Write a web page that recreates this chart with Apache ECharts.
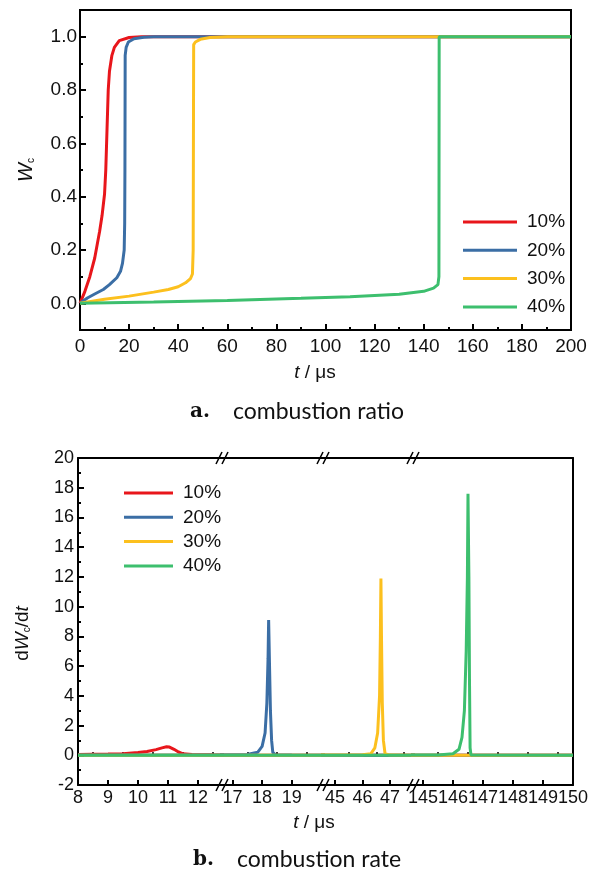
<!DOCTYPE html>
<html lang="en">
<head>
<meta charset="UTF-8">
<title>combustion ratio / rate</title>
<style>html,body{margin:0;padding:0;background:#fff}#main{width:598px;height:871px}</style>
</head>
<body>
<div id="main"></div>
<script src="https://cdn.jsdelivr.net/npm/echarts@6/dist/echarts.min.js"></script>
<script>
    // series labels and colours
    const names = ['10%', '20%', '30%', '40%'];
    const colors = ['#e8161b', '#3b6ea5', '#fcc01e', '#3dbf6e'];

    // a. combustion ratio W_c vs t (us)
    const ratio10 = [[0, 0], [2, 0.045], [4, 0.1], [6, 0.17], [8, 0.27], [9, 0.33], [10, 0.41], [10.5, 0.5], [11, 0.65], [11.5, 0.8], [12, 0.87], [13, 0.93], [14, 0.96], [16, 0.985], [20, 0.997], [25, 1], [200, 1]];
    const ratio20 = [[0, 0], [3, 0.02], [6, 0.035], [9.5, 0.052], [12, 0.07], [15, 0.096], [16.5, 0.12], [17.3, 0.15], [18, 0.2], [18.2, 0.3], [18.3, 0.5], [18.4, 0.93], [18.8, 0.96], [19.7, 0.98], [22, 0.992], [26, 0.998], [30, 1], [200, 1]];
    const ratio30 = [[0, 0], [10, 0.015], [20, 0.027], [30, 0.042], [36, 0.052], [40, 0.062], [43, 0.077], [45, 0.093], [45.8, 0.11], [46.1, 0.2], [46.2, 0.6], [46.3, 0.97], [47, 0.98], [49, 0.99], [53, 0.997], [60, 1], [200, 1]];
    const ratio40 = [[0, 0], [30, 0.005], [60, 0.011], [90, 0.019], [110, 0.025], [130, 0.034], [140, 0.045], [144, 0.057], [145.8, 0.07], [146.2, 0.1], [146.3, 1], [200, 1]];

    // b. combustion rate dW_c/dt vs t (us)
    const rate10 = [[8, 0.06], [9, 0.08], [9.5, 0.11], [10, 0.18], [10.3, 0.26], [10.6, 0.38], [10.8, 0.5], [10.95, 0.57], [11.05, 0.55], [11.2, 0.4], [11.35, 0.22], [11.5, 0.1], [11.8, 0.05], [12.5, 0.03], [13, 0.02], [17, 0.005], [150, 0]];
    const rate20 = [[8, 0.01], [12, 0.02], [16.8, 0.03], [17.5, 0.05], [17.85, 0.2], [18.0, 0.6], [18.1, 1.5], [18.16, 3.5], [18.2, 6.5], [18.22, 9.1], [18.25, 6], [18.28, 3], [18.32, 1], [18.36, 0.2], [18.45, 0.03], [19, 0.01], [150, 0]];
    const rate30 = [[8, 0.005], [40, 0.01], [45, 0.02], [46, 0.04], [46.3, 0.1], [46.45, 0.5], [46.55, 1.5], [46.62, 4], [46.65, 8], [46.67, 11.9], [46.69, 8], [46.72, 3.5], [46.76, 1], [46.82, 0.1], [47, 0.01], [150, 0]];
    const rate40 = [[8, 0], [140, 0], [145.5, 0.02], [146.0, 0.1], [146.2, 0.4], [146.3, 1.2], [146.38, 3], [146.44, 7], [146.48, 12], [146.5, 17.6], [146.53, 12], [146.55, 5], [146.57, 0.5], [146.6, 0.02], [150, 0]];

    // tick values
    const topYLabels = [0, 0.2, 0.4, 0.6, 0.8, 1.0];
    const topYMinor = [0.1, 0.3, 0.5, 0.7, 0.9];
    const segMin = [8, 16.65, 44.564, 144.667];
    const segMax = [12.8, 20.05, 47.836, 150];
    const segLabels = [[8, 9, 10, 11, 12], [17, 18, 19], [45, 46, 47], [145, 146, 147, 148, 149, 150]];
    const segMinor = [[8.5, 9.5, 10.5, 11.5, 12.5], [17.5, 18.5, 19.5], [45.5, 46.5, 47.5], [145.5, 146.5, 147.5, 148.5, 149.5]];

    const ratios = [ratio10, ratio20, ratio30, ratio40];
    const rates = [rate10, rate20, rate30, rate40];

    // layout of the broken axis (px)
    const segLeft = [78, 222, 323, 413];
    const segWidth = [144, 101, 90, 160];
    const bTop = 458, bBottom = 785;

    const FONT = "'Liberation Sans', Arial, sans-serif";
    const black = '#000';
    const txt = '#111';
    const line2 = {show: true, onZero: false, lineStyle: {color: black, width: 2}};
    const off = {show: false};

    let myChart = echarts.init(document.getElementById('main'));

    let grid = [{left: 80, top: 10, width: 491, height: 320, show: true, borderColor: black, borderWidth: 2}];
    for (let g = 0; g < 4; g++) {
        grid.push({left: segLeft[g], top: bTop, width: segWidth[g], height: bBottom - bTop});
    }

    let xAxis = [{
        gridIndex: 0, type: 'value', min: 0, max: 200, interval: 20,
        axisLine: line2,
        axisTick: {inside: true, length: 6, lineStyle: {color: black, width: 2}},
        minorTick: {show: true, splitNumber: 2, length: 3, lineStyle: {color: black, width: 2}},
        splitLine: off, minorSplitLine: off,
        axisLabel: {fontSize: 19, fontFamily: FONT, color: txt, margin: 7}
    }];
    for (let g = 0; g < 4; g++) {
        xAxis.push({
            gridIndex: g + 1, type: 'value', min: segMin[g], max: segMax[g], position: 'bottom',
            axisLine: line2,
            axisTick: {inside: true, length: 5, customValues: segLabels[g], lineStyle: {color: black, width: 2}},
            splitLine: off,
            axisLabel: {fontSize: 18, fontFamily: FONT, color: txt, margin: 4, customValues: segLabels[g],
                showMinLabel: true, showMaxLabel: true}
        });
        xAxis.push({
            gridIndex: g + 1, type: 'value', min: segMin[g], max: segMax[g], position: 'bottom',
            axisLine: off, axisLabel: off, splitLine: off,
            axisTick: {inside: true, length: 3, customValues: segMinor[g], lineStyle: {color: black, width: 2}}
        });
        xAxis.push({
            gridIndex: g + 1, type: 'value', min: segMin[g], max: segMax[g], position: 'top',
            axisLine: line2, axisTick: off, axisLabel: off, splitLine: off
        });
    }

    let yAxis = [{
        gridIndex: 0, type: 'value', min: -0.1, max: 1.1, position: 'left',
        axisLine: line2,
        axisTick: {inside: true, length: 6, customValues: topYLabels, lineStyle: {color: black, width: 2}},
        splitLine: off,
        axisLabel: {fontSize: 19, fontFamily: FONT, color: txt, margin: 3, customValues: topYLabels,
            formatter: v => v.toFixed(1)},
        name: '{i|W}{s|c}', nameLocation: 'middle', nameRotate: 90, nameGap: 44,
        nameTextStyle: {
            fontSize: 20, fontFamily: FONT, color: txt,
            rich: {
                i: {fontSize: 20, fontStyle: 'italic', fontFamily: FONT, color: txt},
                s: {fontSize: 10, fontFamily: FONT, color: txt, verticalAlign: 'bottom'}
            }
        }
    }, {
        gridIndex: 0, type: 'value', min: -0.1, max: 1.1, position: 'left',
        axisLine: off, axisLabel: off, splitLine: off,
        axisTick: {inside: true, length: 3, customValues: topYMinor, lineStyle: {color: black, width: 2}}
    }, {
        gridIndex: 1, type: 'value', min: -2, max: 20, interval: 2, position: 'left',
        axisLine: line2,
        axisTick: {inside: true, length: 6, lineStyle: {color: black, width: 2}},
        minorTick: {show: true, splitNumber: 2, length: 3, lineStyle: {color: black, width: 2}},
        splitLine: off, minorSplitLine: off,
        axisLabel: {fontSize: 18, fontFamily: FONT, color: txt, margin: 4},
        name: '{n|d}{i|W}{s|c}{n|/d}{i|t}', nameLocation: 'middle', nameRotate: 90, nameGap: 46,
        nameTextStyle: {
            fontSize: 19, fontFamily: FONT, color: txt, padding: [0, 24, 0, 0],
            rich: {
                n: {fontSize: 19, fontFamily: FONT, color: txt},
                i: {fontSize: 19, fontStyle: 'italic', fontFamily: FONT, color: txt},
                s: {fontSize: 10, fontFamily: FONT, color: txt, verticalAlign: 'bottom'}
            }
        }
    }, {
        gridIndex: 2, type: 'value', min: -2, max: 20, show: false, splitLine: off
    }, {
        gridIndex: 3, type: 'value', min: -2, max: 20, show: false, splitLine: off
    }, {
        gridIndex: 4, type: 'value', min: -2, max: 20, position: 'right',
        axisLine: line2, axisTick: off, axisLabel: off, splitLine: off
    }];

    let series = [];
    ratios.forEach(function (d, i) {
        series.push({
            type: 'line', name: names[i], xAxisIndex: 0, yAxisIndex: 0, data: d,
            showSymbol: false, color: colors[i], lineStyle: {width: 3, color: colors[i]}
        });
    });
    for (let g = 0; g < 4; g++) {
        rates.forEach(function (d, i) {
            series.push({
                type: 'line', name: names[i], xAxisIndex: 1 + 3 * g, yAxisIndex: 2 + g, data: d,
                showSymbol: false, clip: true, color: colors[i], lineStyle: {width: 3, color: colors[i]}
            });
        });
    }

    // texts and the // break marks
    const tName = {text: '{i|t} / μs', align: 'center', verticalAlign: 'middle', font: '19px ' + FONT, fill: txt,
        rich: {i: {fontStyle: 'italic', fontSize: 19, fontFamily: FONT, fill: txt}}};
    let graphic = [
        {type: 'text', x: 315, y: 373, style: tName},
        {type: 'text', x: 314, y: 823, style: tName},
        {type: 'text', x: 190, y: 412, style: {text: 'a.', verticalAlign: 'middle', font: 'bold 20px "DejaVu Serif", serif', fill: txt}},
        {type: 'text', x: 233, y: 412, style: {text: 'combustion ratio', verticalAlign: 'middle', font: '23px Lato, sans-serif', fill: txt}},
        {type: 'text', x: 193, y: 860, style: {text: 'b.', verticalAlign: 'middle', font: 'bold 20px "DejaVu Serif", serif', fill: txt}},
        {type: 'text', x: 237, y: 860, style: {text: 'combustion rate', verticalAlign: 'middle', font: '23px Lato, sans-serif', fill: txt}}
    ];
    for (let g = 1; g < 4; g++) {
        let bx = segLeft[g];
        [bTop, bBottom].forEach(function (by) {
            [-3, 3].forEach(function (dx) {
                graphic.push({type: 'line', shape: {x1: bx + dx - 3, y1: by + 6, x2: bx + dx + 3, y2: by - 6},
                    style: {stroke: black, lineWidth: 1.6}, z: 100});
            });
        });
    }

    let option = {
        animation: false,
        backgroundColor: '#fff',
        grid: grid,
        xAxis: xAxis,
        yAxis: yAxis,
        legend: [{
            data: names, orient: 'vertical', left: 463, top: 212, padding: 0, icon: 'rect',
            itemWidth: 54, itemHeight: 3, itemGap: 8.3,
            textStyle: {fontSize: 19, fontFamily: FONT, color: txt, lineHeight: 20, padding: [0, 0, 0, 5]}
        }, {
            data: names, orient: 'vertical', left: 124, top: 483, padding: 0, icon: 'rect',
            itemWidth: 49, itemHeight: 3, itemGap: 4.3,
            textStyle: {fontSize: 19, fontFamily: FONT, color: txt, lineHeight: 20, padding: [0, 0, 0, 5]}
        }],
        graphic: graphic,
        series: series
    };
    myChart.setOption(option);
</script>
</body>
</html>
